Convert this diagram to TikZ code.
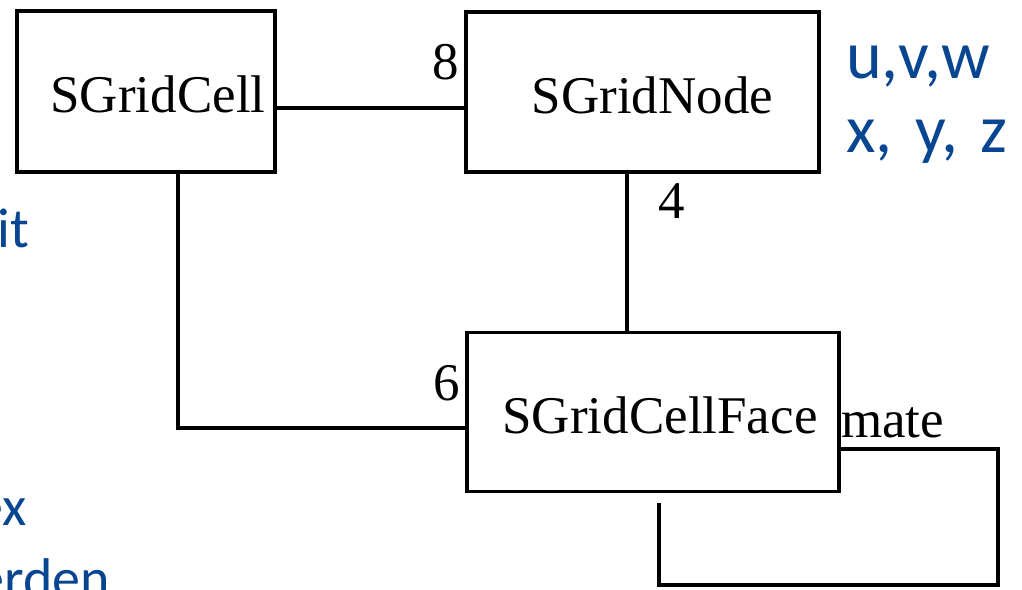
\documentclass[tikz,border=0pt]{standalone}
\usepackage{fontspec}
\setmainfont{Liberation Serif}
\newfontfamily\slidefont{Carlito}
\definecolor{slideblue}{RGB}{8,70,145}
\begin{document}
\begin{tikzpicture}[x=1pt,y=-1pt,
  classbox/.style={draw, line width=3.1pt, rectangle, inner sep=0pt},
  conn/.style={line width=3.1pt},
  classname/.style={font=\fontsize{53}{60}\selectfont, inner sep=0pt},
  mult/.style={font=\fontsize{53}{60}\selectfont, inner sep=0pt},
  slidetext/.style={font=\slidefont\fontsize{68}{75}\selectfont, text=slideblue, inner sep=0pt},
  sidetext/.style={font=\slidefont\fontsize{56}{64}\selectfont, text=slideblue, inner sep=0pt}]
\useasboundingbox (0,0) rectangle (1022,589);
\clip (0,0) rectangle (1022,589);

% class boxes
\node[classbox, minimum width=258pt, minimum height=161pt,
      label={[classname, xshift=12pt, yshift=-3pt]center:SGridCell}] (cell) at (146,91.5) {};
\node[classbox, minimum width=353pt, minimum height=160pt,
      label={[classname, xshift=10pt, yshift=-3pt]center:SGridNode}] (gnode) at (642.5,92) {};
\node[classbox, minimum width=372pt, minimum height=159pt,
      label={[classname, xshift=7pt, yshift=-3.5pt]center:SGridCellFace}] (face) at (653,412) {};

% connectors
\coordinate (loopend) at (659,503);
\draw[conn] (cell.east |- 0,108) -- (gnode.west |- 0,108);
\draw[conn] (gnode.south -| 627,0) -- (face.north -| 627,0);
\draw[conn] (cell.south -| 178,0) |- (face.west |- 0,428);
\draw[conn] (face.east |- 0,449) -| (998,585) -| (loopend);

% multiplicities and role
\node[mult] (m8) at (446,62) {8};
\node[mult] (m4) at (672,201) {4};
\node[mult] (m6) at (447,383) {6};
\node[mult, anchor=base west] (mate) at (841,437) {mate};

% slide text
\node[slidetext, anchor=base west] (uvw) at (846,78) {u,v,w};
\node[slidetext, anchor=base west] (xyz) at (846,152) {x,\hspace{7pt} y,\hspace{7pt} z};
\node[sidetext, anchor=base east] (t1) at (29,247) {it};
\node[sidetext, anchor=base east] (t2) at (27,525) {ex};
\node[sidetext, anchor=base east] (t3) at (110,597) {erden};
\end{tikzpicture}
\end{document}
